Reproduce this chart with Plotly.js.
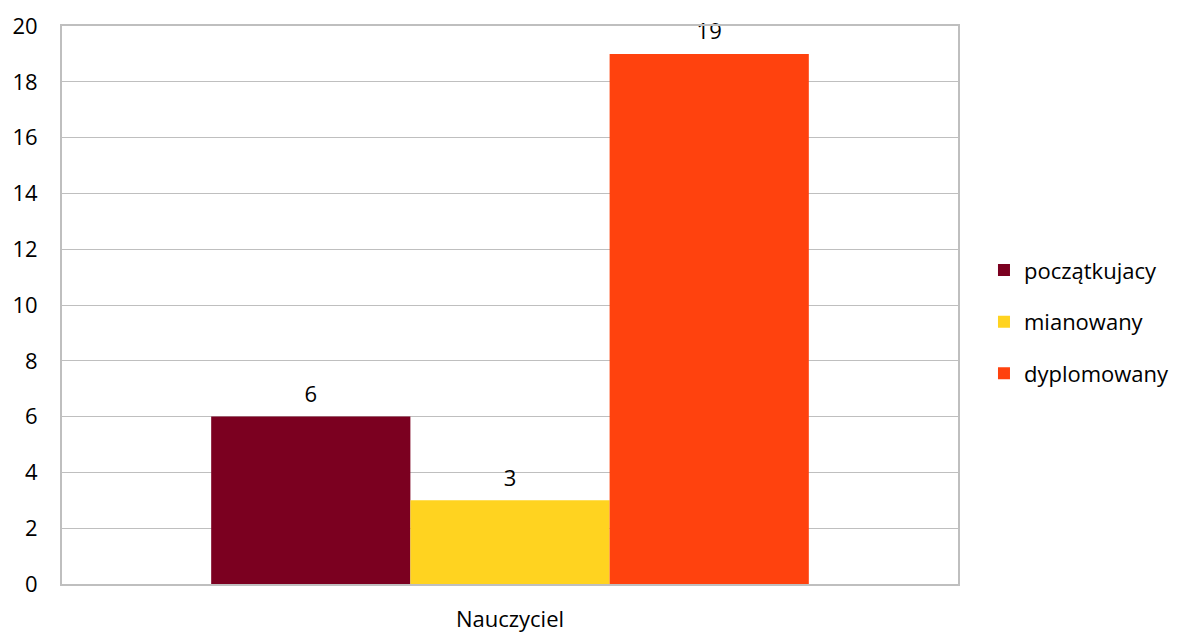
<!DOCTYPE html>
<html><head><meta charset="utf-8">
<script src="https://cdn.plot.ly/plotly-3.0.1.min.js"></script>
<style>body{margin:0;background:#fff}#c{width:1179px;height:633px}</style>
</head><body><div id="c"></div>
<script>
const categories = ["Nauczyciel"];
const seriesNames = ["początkujacy", "mianowany", "dyplomowany"];
const seriesValues = [[6], [3], [19]];
const seriesColors = ["#7B0020", "#FFD320", "#FF420E"];
const yTicks = [0, 2, 4, 6, 8, 10, 12, 14, 16, 18, 20];

const font = {family: "Open Sans, Liberation Sans, sans-serif", size: 22, color: "#000"};
const bars = seriesNames.map((n, i) => ({
  type: "bar", name: n, x: categories, y: seriesValues[i],
  marker: {color: seriesColors[i]}, offsetgroup: "g" + i,
  legendgroup: "g" + i
}));
const labels = seriesNames.map((n, i) => ({
  type: "scatter", mode: "markers+text", name: n, x: categories, y: seriesValues[i],
  marker: {size: 13, opacity: 0},
  text: seriesValues[i].map(String), textposition: "top center",
  textfont: font, offsetgroup: "g" + i, showlegend: false, cliponaxis: false,
  hoverinfo: "skip"
}));
Plotly.newPlot("c", bars.concat(labels), {
  width: 1179, height: 633,
  margin: {l: 62, r: 221, t: 26, b: 49, autoexpand: false},
  barmode: "group", bargap: 0.333, bargroupgap: 0,
  scattermode: "group", scattergap: 0.333,
  font: font,
  paper_bgcolor: "#fff", plot_bgcolor: "#fff",
  xaxis: {showline: true, linecolor: "#BFBFBF", linewidth: 2, mirror: true, tickfont: font, ticks: "",
          ticklabelstandoff: 15},
  yaxis: {range: [0, 20], tickvals: yTicks, showgrid: true, gridcolor: "#BFBFBF", gridwidth: 1,
          showline: true, linecolor: "#BFBFBF", linewidth: 2, mirror: true, zeroline: false,
          tickfont: font, ticks: "", ticklabelstandoff: 18},
  showlegend: true,
  legend: {x: 1.029, xanchor: "left", y: 0.47, yanchor: "middle", traceorder: "grouped",
           tracegroupgap: 20, font: font, itemwidth: 30}
}, {displayModeBar: false});
</script></body></html>
